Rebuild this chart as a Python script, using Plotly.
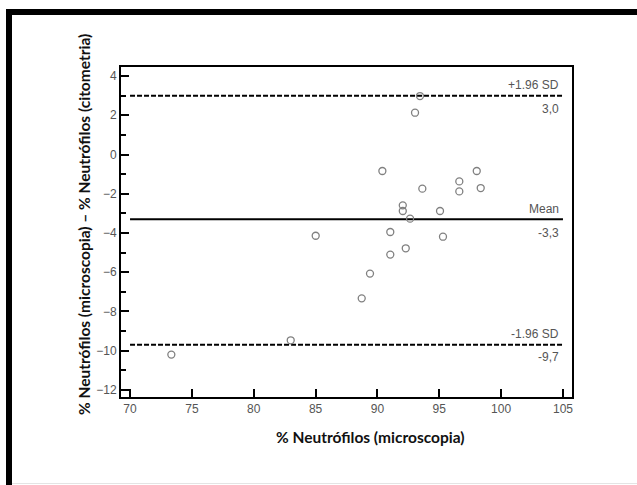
import plotly.graph_objects as go

# Data
micro = [93.44, 93.04, 90.40, 98.03, 96.62, 96.62, 93.63, 98.35, 92.05, 92.05, 95.06,
         92.64, 85.01, 91.04, 95.30, 92.29, 91.04, 89.40, 88.73, 82.99, 73.34]
diff = [2.98, 2.13, -0.84, -0.84, -1.37, -1.88, -1.74, -1.71, -2.59, -2.88, -2.88,
        -3.27, -4.14, -3.95, -4.19, -4.78, -5.10, -6.07, -7.33, -9.47, -10.20]

mean_val = -3.3
upper_val = 3.0
lower_val = -9.7
line_x = [70, 105]
x_ticks = [70, 75, 80, 85, 90, 95, 100, 105]
y_ticks = [-12, -10, -8, -6, -4, -2, 0, 2, 4]

W, H = 637, 485
L, R, T, B = 121, 65, 67, 88
pw, ph = W - L - R, H - T - B

def px(x):
    return (x - L) / pw

def py(y):
    return (H - B - y) / ph

fig = go.Figure()

fig.add_trace(go.Scatter(x=line_x, y=[upper_val, upper_val], mode="lines",
                         line=dict(color="black", width=2, dash="5px,2px"), showlegend=False, hoverinfo="skip"))
fig.add_trace(go.Scatter(x=line_x, y=[lower_val, lower_val], mode="lines",
                         line=dict(color="black", width=2, dash="5px,2px"), showlegend=False, hoverinfo="skip"))
fig.add_trace(go.Scatter(x=line_x, y=[mean_val, mean_val], mode="lines",
                         line=dict(color="black", width=2), showlegend=False, hoverinfo="skip"))
fig.add_trace(go.Scatter(x=micro, y=diff, mode="markers",
                         marker=dict(symbol="circle-open", size=7, color="#808080", line=dict(width=1.3)),
                         showlegend=False))

lab_font = dict(family="Liberation Sans", size=12, color="#555555")
labels = [("+1.96 SD", upper_val, "bottom", 2), ("3,0", upper_val, "top", -4),
          ("Mean", mean_val, "bottom", 1), ("-3,3", mean_val, "top", -5),
          ("-1.96 SD", lower_val, "bottom", 2), ("-9,7", lower_val, "top", -3)]
for txt, yv, ya, ys in labels:
    fig.add_annotation(x=104.85, y=yv, xref="x", yref="y", text=txt, showarrow=False,
                       xanchor="right", yanchor=ya, yshift=ys, font=lab_font)

title_font = dict(family="Lato", size=15.5, color="#111111")
fig.add_annotation(x=px(370), y=py(437), xref="paper", yref="paper",
                   text="<b>% Neutrófilos (microscopia)</b>", showarrow=False,
                   xanchor="center", yanchor="middle", font=title_font)
fig.add_annotation(x=px(84), y=py(225), xref="paper", yref="paper",
                   text="<b>% Neutrófilos (microscopia) – % Neutrófilos (citometria)</b>", showarrow=False,
                   xanchor="center", yanchor="middle", textangle=-90, font=title_font)

# outer frame (top and left black bands)
fig.add_shape(type="rect", xref="paper", yref="paper", x0=px(6), x1=px(640), y0=py(15), y1=py(9),
              fillcolor="black", line=dict(width=0), layer="above")
fig.add_shape(type="rect", xref="paper", yref="paper", x0=px(6), x1=px(12), y0=py(490), y1=py(9),
              fillcolor="black", line=dict(width=0), layer="above")
fig.add_shape(type="line", xref="paper", yref="paper", x0=px(12), x1=px(640), y0=py(483.5), y1=py(483.5),
              line=dict(color="#e4e4e4", width=1), layer="above")

tick_font = dict(family="Liberation Sans", size=12, color="#555555")
fig.update_xaxes(range=[69.27, 105.73], tickvals=x_ticks, ticks="inside", ticklen=8, tickwidth=2,
                 tickcolor="black", showline=True, linecolor="black", linewidth=2, mirror=True,
                 showgrid=False, zeroline=False, tickfont=tick_font)
fig.update_yaxes(range=[-12.36, 4.46], tickvals=y_ticks, ticks="inside", ticklen=8, tickwidth=2,
                 tickcolor="black", showline=True, linecolor="black", linewidth=2, mirror=True,
                 showgrid=False, zeroline=False, tickfont=tick_font,
                 minor=dict(dtick=1, tick0=0, ticks="inside", ticklen=5, tickwidth=1.5, tickcolor="black", showgrid=False))

fig.update_layout(width=W, height=H, margin=dict(l=L, r=R, t=T, b=B),
                  paper_bgcolor="white", plot_bgcolor="white")

fig.write_html("out.html")
